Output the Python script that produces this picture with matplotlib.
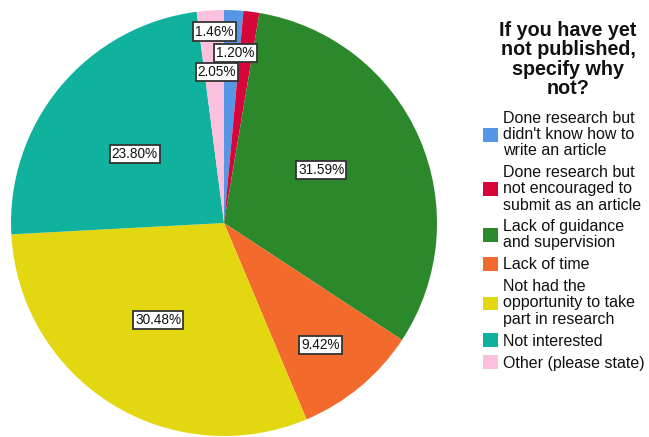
import numpy as np
import matplotlib
matplotlib.use("Agg")
import matplotlib.pyplot as plt
from matplotlib.patches import Patch

categories = [
    "Done research but\ndidn't know how to\nwrite an article",
    "Done research but\nnot encouraged to\nsubmit as an article",
    "Lack of guidance\nand supervision",
    "Lack of time",
    "Not had the\nopportunity to take\npart in research",
    "Not interested",
    "Other (please state)",
]
values = [1.46, 1.20, 31.59, 9.42, 30.48, 23.80, 2.05]
colors = ["#5796E6", "#D6063A", "#2B882B", "#F26B2D", "#E2D710", "#10B19D", "#FBC1DE"]
title = "If you have yet\nnot published,\nspecify why\nnot?"

# label placement styling (distance from center as fraction of radius, angle offset deg)
label_dist = [0.90, 0.80, 0.52, 0.73, 0.55, 0.53, 0.71]
label_dang = [5.5, 3.5, 5.0, -1.5, -2.0, 2.0, -1.0]

plt.rcParams['font.family'] = ['Liberation Sans', 'DejaVu Sans']

W, H = 649, 437
fig = plt.figure(figsize=(W / 100, H / 100), dpi=100)
cx, cy, R = 224, 437 - 223, 213
half = 214
ax = fig.add_axes([(cx - half) / W, (cy - half) / H, 2 * half / W, 2 * half / H])
wedges, _ = ax.pie(values, colors=colors, startangle=90, counterclock=False,
                   radius=1, wedgeprops=dict(linewidth=0))
ax.set_xlim(-half / R, half / R)
ax.set_ylim(-half / R, half / R)
ax.set_aspect('equal')
ax.axis('off')

for w, v, d, da in zip(wedges, values, label_dist, label_dang):
    ang = np.deg2rad((w.theta1 + w.theta2) / 2 + da)
    ax.text(d * np.cos(ang), d * np.sin(ang), f"{v:.2f}%", ha='center', va='center',
            fontsize=9.8, color='#111111',
            bbox=dict(boxstyle='square,pad=0.15', facecolor='white',
                      edgecolor='#333333', linewidth=1.3))

fig.text(568 / W, 1 - 21 / H, title, ha='center', va='top', fontsize=14.2,
         fontweight='bold', linespacing=1.02, color='#111111')

handles = [Patch(facecolor=c, edgecolor='none') for c in colors]
leg = fig.legend(handles, categories, loc='upper left',
                 bbox_to_anchor=(483 / W, 1 - 111 / H), frameon=False,
                 fontsize=11.5, handlelength=0.94, handleheight=0.94,
                 handletextpad=0.3, labelspacing=0.42, borderpad=0,
                 borderaxespad=0)
for t in leg.get_texts():
    t.set_linespacing(1.1)
    t.set_color('#111111')

fig.savefig("out.png", dpi=100)
